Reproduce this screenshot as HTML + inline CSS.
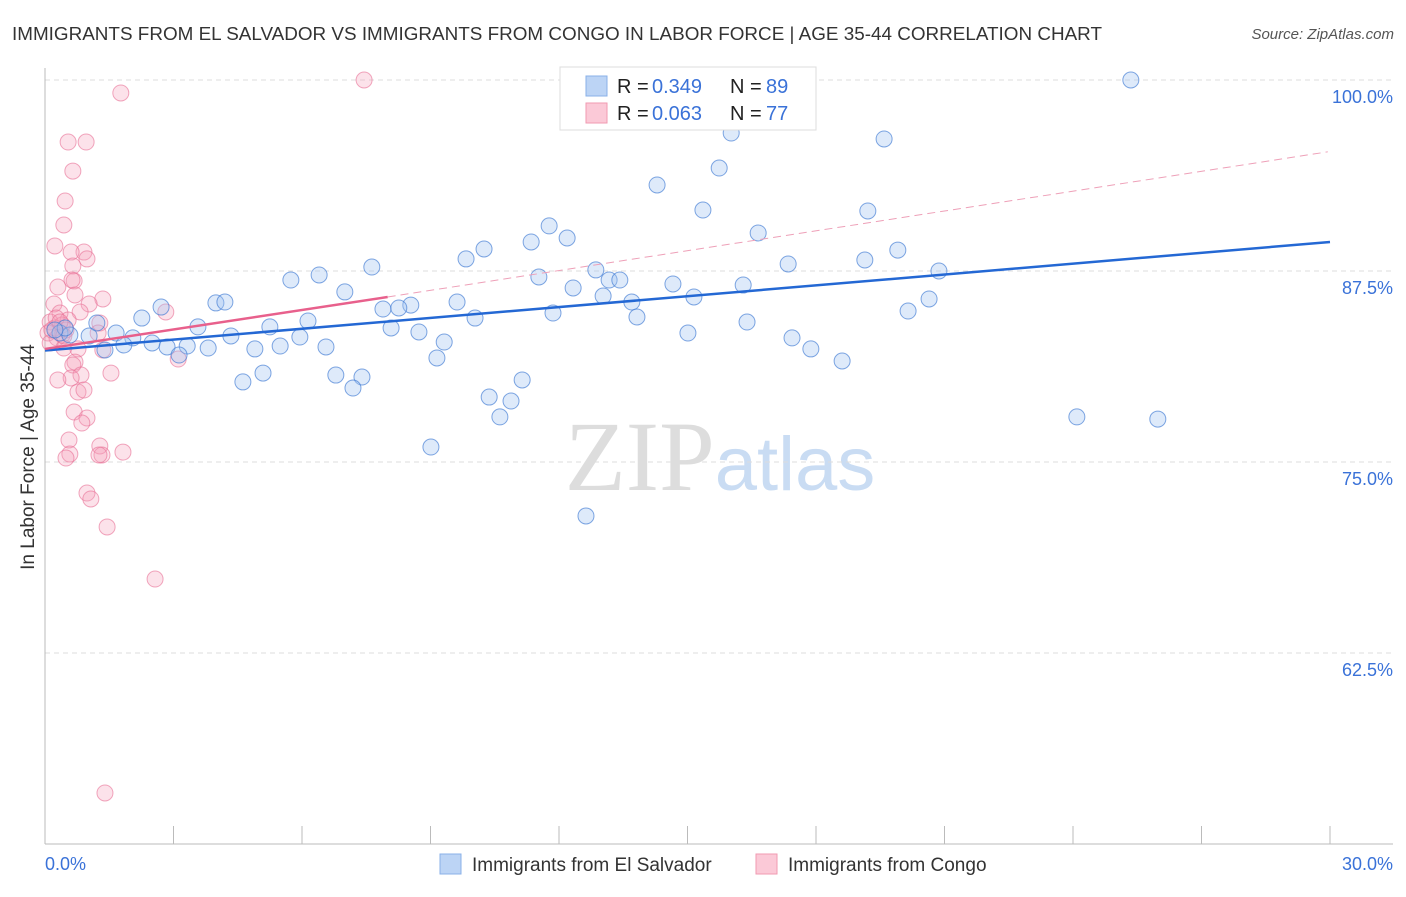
<!DOCTYPE html>
<html><head><meta charset="utf-8"><style>
body{margin:0;background:#fff;font-family:"Liberation Sans",sans-serif}
svg text{font-family:"Liberation Sans",sans-serif}
</style></head><body>
<svg id="chart" width="1406" height="892" xmlns="http://www.w3.org/2000/svg">
<text x="12" y="40" font-size="18" fill="#333" textLength="1090" lengthAdjust="spacingAndGlyphs">IMMIGRANTS FROM EL SALVADOR VS IMMIGRANTS FROM CONGO IN LABOR FORCE | AGE 35-44 CORRELATION CHART</text>
<text x="1394" y="39" font-size="15" fill="#555" text-anchor="end" font-style="italic">Source: ZipAtlas.com</text>
<text x="720" y="490" font-size="100" text-anchor="middle"><tspan fill="#ddd" font-family="Liberation Serif">ZIP</tspan><tspan fill="#c9dcf3" font-size="76">atlas</tspan></text>
<g id="grid"></g>
<g id="axes"></g>
<g id="pinkpts"></g>
<g id="bluepts"></g>
<g id="trends"></g>
<text transform="translate(34,457) rotate(-90)" font-size="19" fill="#333" text-anchor="middle">In Labor Force | Age 35-44</text>
<text x="45" y="870" font-size="18" fill="#3a72d8">0.0%</text>
<text x="1393" y="870" font-size="18" fill="#3a72d8" text-anchor="end">30.0%</text>
<g>
<rect x="560" y="67" width="256" height="63" fill="#fff" stroke="#ddd"/>
<rect x="586" y="76" width="21" height="20" fill="#bcd4f5" stroke="#8ab0e8"/>
<rect x="586" y="103" width="21" height="20" fill="#fbc9d7" stroke="#f09ab2"/>
<text x="617" y="93" font-size="20" fill="#222">R = </text>
<text x="652" y="93" font-size="20" fill="#3a72d8">0.349</text>
<text x="730" y="93" font-size="20" fill="#222">N = </text>
<text x="766" y="93" font-size="20" fill="#3a72d8">89</text>
<text x="617" y="120" font-size="20" fill="#222">R = </text>
<text x="652" y="120" font-size="20" fill="#3a72d8">0.063</text>
<text x="730" y="120" font-size="20" fill="#222">N = </text>
<text x="766" y="120" font-size="20" fill="#3a72d8">77</text>
</g>
<g>
<rect x="440" y="854" width="21" height="20" fill="#bcd4f5" stroke="#8ab0e8"/>
<text x="472" y="871" font-size="19" fill="#333">Immigrants from El Salvador</text>
<rect x="756" y="854" width="21" height="20" fill="#fbc9d7" stroke="#f09ab2"/>
<text x="788" y="871" font-size="19" fill="#333">Immigrants from Congo</text>
</g>
</svg>
<script>
const yTicks=[100,87.5,75,62.5];
const yTickLabels=["100.0%","87.5%","75.0%","62.5%"];
const xTicks=[0,3,6,9,12,15,18,21,24,27,30];
const bluePx=[[1131,80],[731,133],[884,139],[719,168],[657,185],[703,210],[868,211],[549,226],[567,238],[531,242],[758,233],[484,249],[898,250],[466,259],[865,260],[788,264],[372,267],[596,270],[319,275],[291,280],[539,277],[609,280],[620,280],[939,271],[673,284],[573,288],[345,292],[743,285],[603,296],[694,297],[929,299],[457,302],[632,302],[216,303],[225,302],[161,307],[411,305],[383,309],[399,308],[908,311],[142,318],[475,318],[553,313],[637,317],[308,321],[270,327],[198,327],[747,322],[391,328],[419,332],[97,323],[116,333],[688,333],[231,336],[300,337],[133,338],[89,336],[792,338],[444,342],[152,343],[124,345],[167,347],[187,346],[208,348],[280,346],[255,349],[326,347],[811,349],[105,350],[179,355],[437,358],[842,361],[263,373],[336,375],[362,377],[243,382],[353,388],[522,380],[489,397],[511,401],[500,417],[1077,417],[1158,419],[431,447],[586,516],[60,333],[70,335],[65,328],[55,330]];
const pinkPx=[[364,80],[121,93],[68,142],[86,142],[73,171],[65,201],[64,225],[55,246],[84,252],[71,252],[87,259],[73,266],[74,281],[72,280],[58,287],[75,295],[103,299],[89,304],[54,304],[60,313],[166,312],[80,312],[68,320],[100,323],[50,322],[55,328],[48,333],[62,335],[57,338],[98,333],[64,348],[78,349],[103,350],[50,343],[75,362],[73,365],[81,375],[71,378],[111,373],[58,380],[78,392],[84,390],[74,412],[87,418],[82,423],[69,440],[100,446],[70,454],[66,458],[102,455],[123,452],[99,455],[87,493],[91,499],[107,527],[178,359],[155,579],[105,793],[62,325],[52,330],[66,330],[56,318],[60,322],[64,336]];
// values in data units (x %, y %)
const blueX=bluePx.map(p=>+((p[0]-45)/1285*30).toFixed(2));
const blueY=bluePx.map(p=>+(100-(p[1]-80)/15.28).toFixed(2));
const pinkX=pinkPx.map(p=>+((p[0]-45)/1285*30).toFixed(2));
const pinkY=pinkPx.map(p=>+(100-(p[1]-80)/15.28).toFixed(2));
const blueTrend=[[0,82.3],[30,89.4]];
const pinkTrend=[[0,82.4],[8,85.8],[29.95,95.3]];

const X=v=>45+v/30*1285;
const Y=v=>80+(100-v)*15.28;
const NS="http://www.w3.org/2000/svg";
function mk(tag,attrs,parent){const e=document.createElementNS(NS,tag);for(const k in attrs)e.setAttribute(k,attrs[k]);parent.appendChild(e);return e;}
const grid=document.getElementById('grid');
yTicks.forEach((t,i)=>{
  const l=mk('line',{x1:45,x2:1393,y1:Y(t),y2:Y(t),stroke:'#ddd','stroke-dasharray':'5,4'},grid);
  
  
  const tx=mk('text',{x:1393,y:Y(t)+23,'font-size':18,fill:'#3a72d8','text-anchor':'end'},grid);
  tx.textContent=yTickLabels[i];
  
  
});
const axes=document.getElementById('axes');
const ya=mk('line',{x1:45,x2:45,y1:68,y2:844,stroke:'#bbb'},axes);


const xa=mk('line',{x1:45,x2:1393,y1:844,y2:844,stroke:'#bbb'},axes);


xTicks.forEach(t=>{
  const l=mk('line',{x1:X(t),x2:X(t),y1:826,y2:844,stroke:'#bbb'},axes);
  
  
});
function pts(xs,ys,g,fill,stroke,name){
  xs.forEach((x,i)=>{
    const c=mk('circle',{cx:X(x),cy:Y(ys[i]),r:8,fill:fill,stroke:stroke,'stroke-width':1},g);
    
    
  });
}
pts(pinkX,pinkY,document.getElementById('pinkpts'),'rgba(246,160,186,0.3)','rgba(232,110,148,0.6)','congo-point');
pts(blueX,blueY,document.getElementById('bluepts'),'rgba(160,196,240,0.35)','rgba(60,120,210,0.65)','el-salvador-point');
const tr=document.getElementById('trends');
const bt=mk('line',{x1:X(blueTrend[0][0]),y1:Y(blueTrend[0][1]),x2:X(blueTrend[1][0]),y2:Y(blueTrend[1][1]),stroke:'#2468d4','stroke-width':2.5},tr);


const pt=mk('line',{x1:X(pinkTrend[0][0]),y1:Y(pinkTrend[0][1]),x2:X(pinkTrend[1][0]),y2:Y(pinkTrend[1][1]),stroke:'#e8608c','stroke-width':2.5},tr);


const pd=mk('line',{x1:X(pinkTrend[1][0]),y1:Y(pinkTrend[1][1]),x2:X(pinkTrend[2][0]),y2:Y(pinkTrend[2][1]),stroke:'#eea0b8','stroke-width':1,'stroke-dasharray':'8,5'},tr);


</script>
</body></html>
